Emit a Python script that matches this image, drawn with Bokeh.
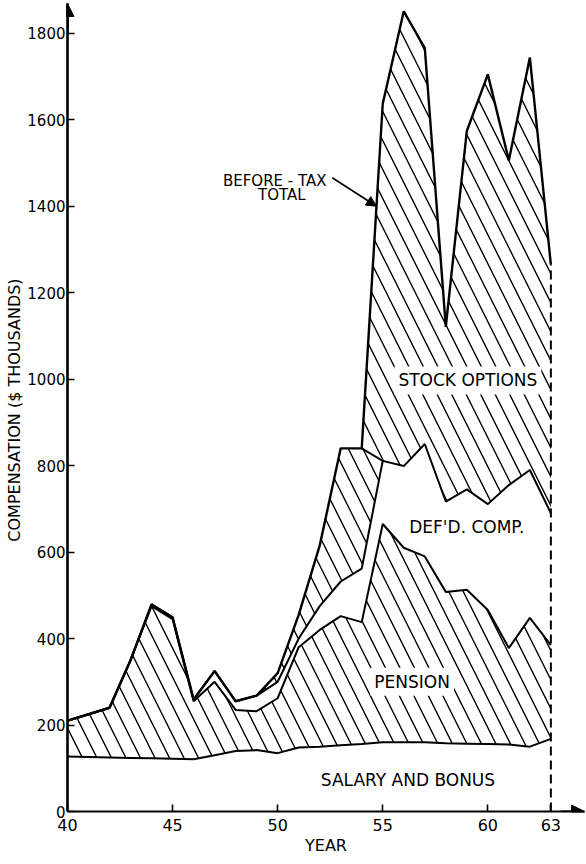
import numpy as np
from bokeh.plotting import figure
from bokeh.models import ColumnDataSource, Range1d, Label, Arrow, NormalHead, FixedTicker
from bokeh.embed import file_html
from bokeh.resources import INLINE

years = list(range(40, 64))
salary = [127, 126, 125, 124, 123, 122, 121, 130, 140, 142, 135, 148, 150, 153, 156, 160, 160, 160, 158, 157, 156, 155, 150, 168]
pension = [83, 99, 115, 226, 352, 323, 134, 170, 95, 90, 127, 232, 270, 299, 282, 505, 450, 430, 350, 356, 310, 223, 298, 217]
deferred = [0, 0, 0, 0, 4, 4, 4, 25, 20, 36, 38, 20, 55, 80, 124, 146, 189, 260, 209, 232, 245, 377, 342, 305]
options = [0, 0, 0, 0, 0, 0, 0, 0, 0, 0, 20, 55, 140, 308, 278, 826, 1052, 916, 404, 829, 994, 751, 954, 575]
x_ticks = [40, 45, 50, 55, 60, 63]
y_ticks = list(range(0, 1801, 200))

s1 = np.array(salary, float)
s2 = s1 + np.array(pension, float)
s3 = s2 + np.array(deferred, float)
s4 = s3 + np.array(options, float)
src = ColumnDataSource(dict(x=years, zero=np.zeros(len(years)), s1=s1, s2=s2, s3=s3, s4=s4))

FONT = "DejaVu Sans"

p = figure(width=586, height=860, output_backend="svg", toolbar_location=None,
           x_range=Range1d(40, 64.6), y_range=Range1d(0, 1869),
           min_border_left=67, min_border_right=2, min_border_top=3, min_border_bottom=49)
p.outline_line_color = None
p.xgrid.visible = False
p.ygrid.visible = False

HATCH = dict(hatch_pattern="\\", hatch_scale=29, hatch_weight=1.4, hatch_color="black")
p.varea(x="x", y1="zero", y2="s1", source=src, fill_color="white")
p.varea(x="x", y1="s1", y2="s2", source=src, fill_color="white", **HATCH)
p.varea(x="x", y1="s2", y2="s3", source=src, fill_color="white")
p.varea(x="x", y1="s3", y2="s4", source=src, fill_color="white", **HATCH)

for col in ["s1", "s2", "s3"]:
    p.line(x="x", y=col, source=src, line_color="black", line_width=2)
p.line(x="x", y="s4", source=src, line_color="black", line_width=2.4)
# short connecting stroke drawn in the original between 1954 total and 1955 deferred top
p.line(x=[years[14], years[15]], y=[s4[14], s3[15]], line_color="black", line_width=1.8)

# dashed marker at the last year
p.segment(x0=[years[-1]], y0=[0], x1=[years[-1]], y1=[s4[-1]], line_color="black", line_width=2, line_dash="9 5")

# axes
for ax in (p.xaxis, p.yaxis):
    ax.axis_line_color = "black"
    ax.major_tick_line_color = "black"
    ax.minor_tick_line_color = None
    ax.major_tick_out = 0
    ax.major_label_text_font = FONT
    ax.major_label_text_color = "black"
    ax.axis_label_text_font = FONT
    ax.axis_label_text_font_style = "normal"
    ax.axis_label_text_font_size = "16px"
    ax.axis_label_text_color = "black"
p.yaxis.major_label_text_font_size = "15px"
p.xaxis.major_label_text_font_size = "16px"
p.yaxis.axis_line_width = 2.6
p.xaxis.axis_line_width = 2.2
p.yaxis.major_tick_line_width = 1.6
p.xaxis.major_tick_line_width = 1.6
p.yaxis.major_tick_in = 7
p.xaxis.major_tick_in = 7
p.yaxis.ticker = FixedTicker(ticks=y_ticks)
p.xaxis.ticker = FixedTicker(ticks=x_ticks)
p.yaxis.major_label_standoff = 2
p.xaxis.major_label_standoff = 7
p.xaxis.axis_label = "YEAR"
p.xaxis.axis_label_standoff = 2
p.yaxis.axis_label = "COMPENSATION  ($ THOUSANDS)"
p.yaxis.axis_label_standoff = 0

p.add_layout(Arrow(end=NormalHead(size=13, fill_color="black", line_color="black"),
                   x_start=40, y_start=1800, x_end=40, y_end=1869, line_width=2.6, line_color="black"))
p.add_layout(Arrow(end=NormalHead(size=13, fill_color="black", line_color="black"),
                   x_start=63.5, y_start=0, x_end=64.6, y_end=0, line_width=2.2, line_color="black"))

def lab(text, x, y, size="17px", bg=True, align="center"):
    kw = dict(x=x, y=y, text=text, text_font=FONT, text_font_size=size, text_color="black",
              text_align=align, text_baseline="middle")
    if bg:
        kw.update(background_fill_color="white", padding=4)
    p.add_layout(Label(**kw))

lab("STOCK OPTIONS", 59.05, 997)
lab("DEF'D. COMP.", 59.0, 659)
lab("PENSION", 56.4, 300)
lab("SALARY AND BONUS", 56.2, 72, bg=False)
lab("BEFORE - TAX", 49.86, 1458, size="15px", bg=False)
lab("TOTAL", 50.2, 1427, size="15px", bg=False)

p.add_layout(Arrow(end=NormalHead(size=10, fill_color="black", line_color="black"),
                   x_start=52.6, y_start=1466, x_end=54.7, y_end=1400, line_width=1.6, line_color="black"))

open("out.html", "w").write(file_html(p, INLINE))
